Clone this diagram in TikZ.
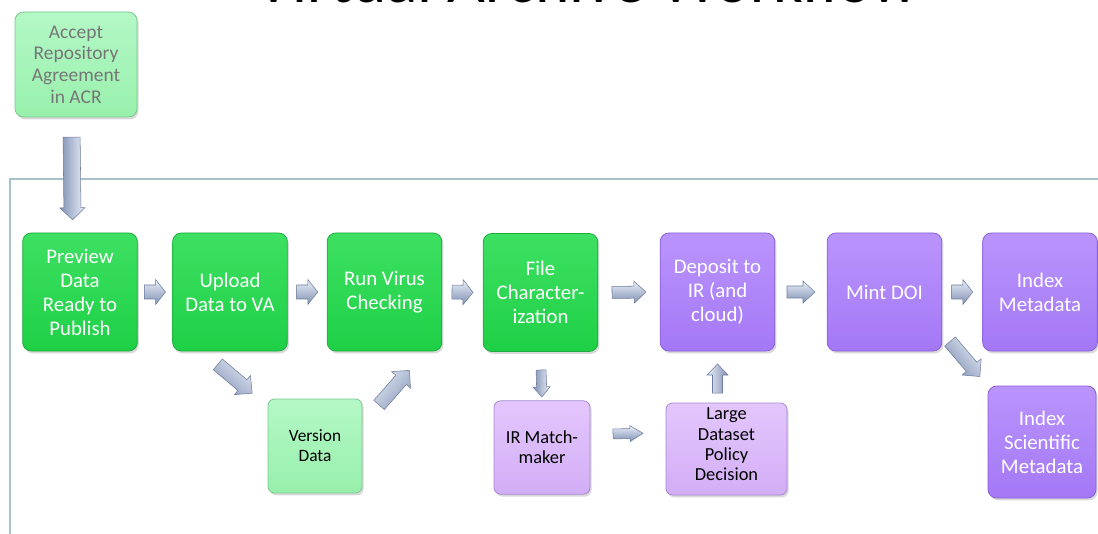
\documentclass[tikz,border=0pt]{standalone}
\usepackage{fontspec}
\setmainfont{Carlito}
\usetikzlibrary{calc, shadows}

\definecolor{greentop}{RGB}{62,224,98}
\definecolor{greenbot}{RGB}{30,208,70}
\definecolor{greenedge}{RGB}{28,172,60}
\definecolor{minttop}{RGB}{180,248,198}
\definecolor{mintbot}{RGB}{152,240,172}
\definecolor{mintedge}{RGB}{122,200,142}
\definecolor{violettop}{RGB}{186,148,252}
\definecolor{violetbot}{RGB}{164,120,246}
\definecolor{violetedge}{RGB}{136,96,216}
\definecolor{lilactop}{RGB}{228,198,252}
\definecolor{lilacbot}{RGB}{210,174,246}
\definecolor{lilacedge}{RGB}{166,136,212}
\definecolor{arrowlight}{RGB}{234,240,250}
\definecolor{arrowdark}{RGB}{128,144,178}
\definecolor{arrowedge}{RGB}{108,124,156}
\definecolor{framecol}{RGB}{168,192,204}
\definecolor{accepttext}{RGB}{118,118,118}

\begin{document}
\begin{tikzpicture}[
		x=0.75pt, y=-0.75pt,
		every node/.style={font=\fontsize{15.6}{18}\selectfont, align=center, inner sep=2pt},
		box/.style={rectangle, rounded corners=6.5pt, line width=0.6pt,
			minimum width=86pt, minimum height=88.5pt,
			drop shadow={opacity=0.3, shadow xshift=1.2pt, shadow yshift=-1.8pt}},
		greenbox/.style={box, draw=greenedge, top color=greentop, bottom color=greenbot, text=white},
		mintbox/.style={box, draw=mintedge, top color=minttop, bottom color=mintbot, rounded corners=5pt},
		violetbox/.style={box, draw=violetedge, top color=violettop, bottom color=violetbot, text=white},
		lilacbox/.style={box, draw=lilacedge, top color=lilactop, bottom color=lilacbot, rounded corners=5pt,
			font=\fontsize{13.8}{15.2}\selectfont},
		frameline/.style={draw=framecol, line width=1pt},
		arrow half/.store in=\fahalf, arrow half=7.9pt,
		arrow shaft/.store in=\fashaft, arrow shaft=5.25pt,
		arrow head/.store in=\fahead, arrow head=9.4pt,
		arrow tip/.store in=\fatip, arrow tip=7.5pt,
		arrow pos/.store in=\fapos, arrow pos=0.5,
		fat arrow/.style={draw=arrowedge, line width=0.4pt,
			top color=arrowlight, bottom color=arrowdark, shading angle=#1,
			to path={
				let \p1=($(\tikztostart)!\fapos!(\tikztotarget)$),
				\p2=($(\p1)!\fahalf!(\tikztostart)$),
				\p3=($(\p1)!\fahalf!(\tikztotarget)$),
				\p4=($(\p3)!\fatip!(\p2)$)
				in ($(\p2)!\fashaft!90:(\p3)$) -- ($(\p4)!\fashaft!-90:(\p2)$)
				-- ($(\p4)!\fahead!-90:(\p2)$) -- (\p3) -- ($(\p4)!\fahead!90:(\p2)$)
				-- ($(\p4)!\fashaft!90:(\p2)$) -- ($(\p2)!\fashaft!-90:(\p3)$) -- cycle}}
		]
		
		\useasboundingbox (0,0) rectangle (1098,534);
		\clip (0,0) rectangle (1098,534);
		
		% === TITLE (cut by the top edge) ===
		\node[font=\fontsize{49}{58}\selectfont, anchor=base] (title) at (587,3) {Virtual Archive Workflow};
		
		% === FRAME ===
		\draw[frameline] (10,534) -- (10,179) -- (1098,179);
		
		% === ACCEPT STEP ===
		\node[mintbox, minimum width=91.5pt, minimum height=78.75pt, text=accepttext,
		font=\fontsize{14.6}{16.3}\selectfont, rounded corners=6.5pt]
		(accept) at (76,64.5) {Accept\\Repository\\Agreement\\in ACR};
		
		% === MAIN ROW ===
		\node[greenbox] (preview) at (80,292) {Preview\\Data\\Ready to\\Publish};
		\node[greenbox] (upload) at (230,292) {Upload\\Data to VA};
		\node[greenbox] (virus) at (384.5,292) {Run Virus\\Checking};
		\node[greenbox] (filechar) at (540.5,292.5) {File\\Character-\\ization};
		\node[violetbox] (deposit) at (717.5,292) {Deposit to\\IR (and\\cloud)};
		\node[violetbox] (mint) at (884.5,292) {Mint DOI};
		\node[violetbox] (indexmeta) at (1040,292) {Index\\Metadata};
		
		% === SIDE STEPS ===
		\node[mintbox, minimum width=70.5pt, minimum height=70.5pt,
		font=\fontsize{13}{15}\selectfont] (version) at (315,446) {Version\\Data};
		\node[lilacbox, minimum width=72pt, minimum height=70pt] (irmatch) at (542,447.5) {IR Match-\\maker};
		\node[lilacbox, minimum width=90.75pt, minimum height=69pt, inner ysep=0pt, text depth=7pt]
		(largeds) at (726.5,449) {Large\\Dataset\\Policy\\Decision};
		\node[violetbox, minimum width=81pt, minimum height=84pt] (indexsci) at (1042,442) {Index\\Scientific\\Metadata};
		
		% === BLOCK ARROWS ===
		\draw[fat arrow=-90, arrow half=31pt, arrow shaft=6.4pt, arrow tip=9pt, arrow pos=0.53]
		(accept.-95) to (preview.97);
		
		\foreach \a/\b in {preview/upload, upload/virus, virus/filechar, mint/indexmeta} {
			\draw[fat arrow=0] (\a.east) to (\b.west);
		}
		\draw[fat arrow=0, arrow half=12.75pt, arrow shaft=4.5pt, arrow head=8.25pt, arrow tip=9pt]
		(filechar.east) to (deposit.west);
		\draw[fat arrow=0, arrow half=10.5pt, arrow shaft=4.5pt, arrow head=8.25pt, arrow tip=9pt]
		(deposit.east) to (mint.west);
		
		% Version data detour
		\draw[fat arrow=-40, arrow half=16.8pt, arrow tip=9.5pt] (upload.-115) to (version.140);
		\draw[fat arrow=49, arrow half=17.25pt, arrow tip=9.5pt] (version.25) to (virus.-55);
		
		% IR branch
		\draw[fat arrow=-90, arrow half=10.1pt, arrow shaft=3.75pt, arrow head=6.4pt, arrow pos=0.65]
		(filechar.south) to (irmatch.north);
		\draw[fat arrow=0, arrow half=11.25pt, arrow shaft=3.75pt, arrow head=6pt, arrow tip=9.75pt]
		(irmatch.15) to (largeds.165);
		\draw[fat arrow=90, arrow half=10.9pt, arrow shaft=3.75pt, arrow head=7.9pt, arrow tip=8.25pt, arrow pos=0.47]
		(largeds.north -| deposit.south) to (deposit.south);
		
		\draw[fat arrow=-49, arrow half=17.25pt, arrow tip=9.5pt] (mint.-35) to (indexsci.north west);
		
	\end{tikzpicture}
\end{document}
